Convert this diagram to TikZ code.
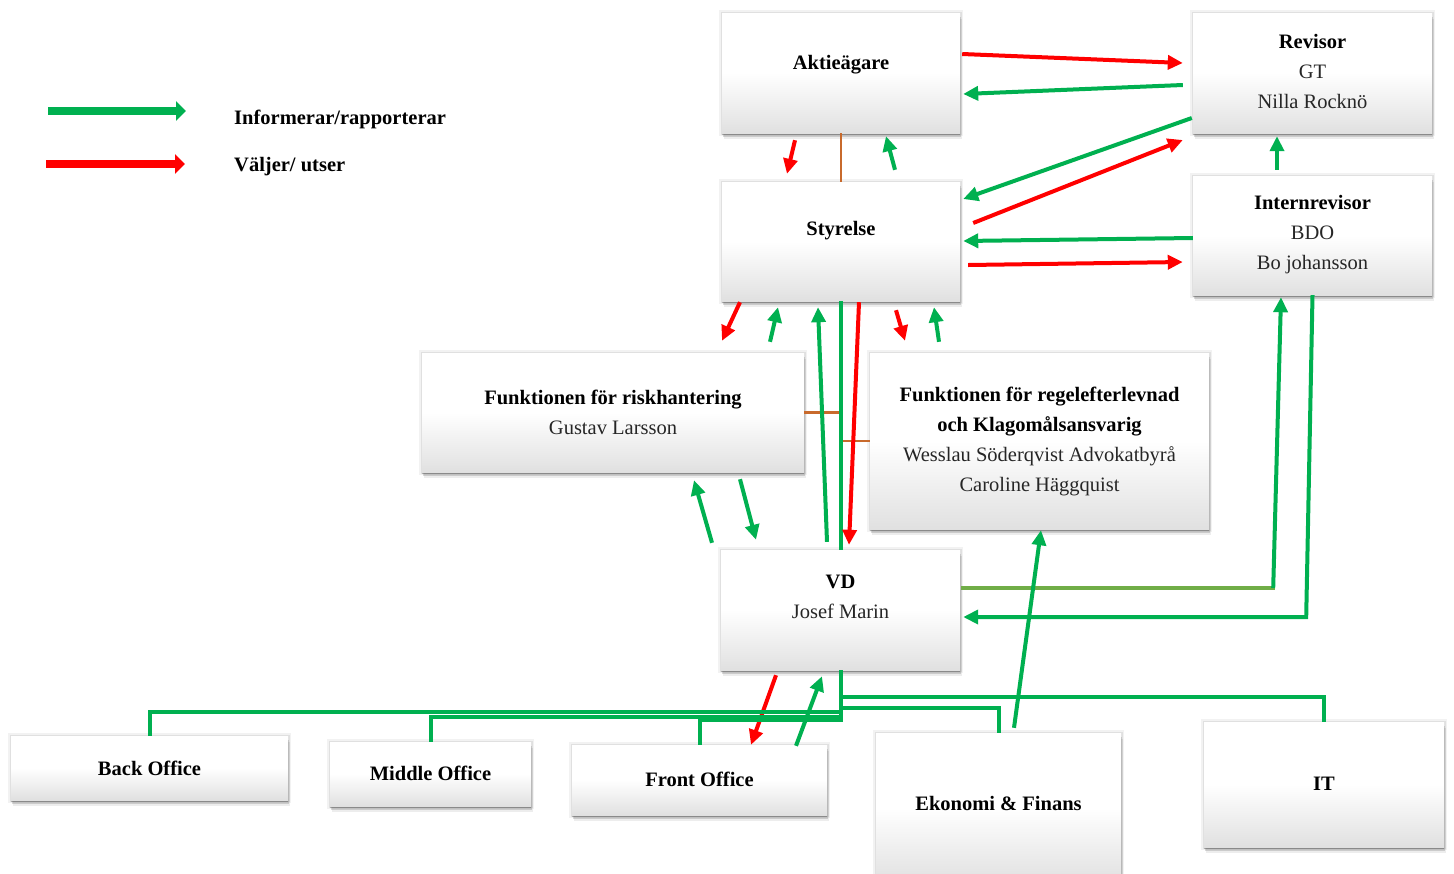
\documentclass[tikz,border=0pt]{standalone}
\usepackage{fontspec}
\setmainfont{Liberation Serif}
\usetikzlibrary{arrows.meta,calc,shadows}
\definecolor{cgreen}{HTML}{00B050}
\definecolor{cred}{HTML}{FF0000}
\definecolor{cbrown}{HTML}{C86A2C}
\definecolor{colive}{HTML}{70AD47}
\begin{document}
\begin{tikzpicture}[x=1pt,y=-1pt,
  box/.style={inner sep=0pt, top color=white, bottom color=black!12, middle color=white,
    drop shadow={shadow xshift=0pt,shadow yshift=-1.5pt,opacity=0.22,fill=black},
    drop shadow={shadow xshift=1pt,shadow yshift=-3.5pt,opacity=0.14,fill=black},
    drop shadow={shadow xshift=2pt,shadow yshift=-5.5pt,opacity=0.07,fill=black},
    preaction={draw=black, draw opacity=0.05, line width=6pt},
    preaction={draw=black, draw opacity=0.07, line width=3pt}},
  txt/.style={font=\fontsize{20.5}{30}\selectfont, align=center, inner sep=0pt, text=black!85},
  hd/.style={txt, text=black, font=\fontsize{20.5}{30}\selectfont\bfseries},
  garr/.style={draw=cgreen, line width=4pt, -{Triangle[length=15pt,width=14pt]}},
  rarr/.style={draw=cred, line width=4pt, -{Triangle[length=15pt,width=14pt]}},
  gline/.style={draw=cgreen, line width=4pt},
  bline/.style={draw=cbrown, line width=2.5pt},
  legg/.style={draw=cgreen, line width=8pt, -{Triangle[length=10pt,width=19pt]}},
  legr/.style={draw=cred, line width=8pt, -{Triangle[length=10pt,width=19pt]}}
]
\useasboundingbox (0,0) rectangle (1454,873);
\clip (0,0) rectangle (1454,873);
\fill[white] (0,0) rectangle (1454,873);

% boxes
\node[box, minimum width=238pt, minimum height=120pt] (akt) at (841,73) {};
\node[box, minimum width=239pt, minimum height=120pt] (rev) at (1312.5,73) {};
\node[box, minimum width=238pt, minimum height=119pt] (sty) at (841,241.5) {};
\node[box, minimum width=239pt, minimum height=119pt] (int) at (1312.5,235.5) {};
\node[box, minimum width=382pt, minimum height=119pt] (risk) at (613,412.5) {};
\node[box, minimum width=339pt, minimum height=176pt] (reg) at (1039.5,441) {};
\node[box, minimum width=239pt, minimum height=120pt] (vd) at (840.5,610) {};
\node[box, minimum width=277pt, minimum height=64pt] (back) at (149.5,768) {};
\node[box, minimum width=201pt, minimum height=64pt] (mid) at (430.5,774) {};
\node[box, minimum width=255pt, minimum height=70pt] (front) at (699.5,780) {};
\node[box, minimum width=245pt, minimum height=150pt] (eko) at (998.5,808) {};
\node[box, minimum width=240pt, minimum height=125pt] (it) at (1324,784.5) {};

% texts
\node[hd] (akt-t) at ($(akt.center)+(0,-8)$) {Aktieägare};
\node[txt] (rev-t) at ($(rev.center)+(0,-1.5)$) {\textbf{\color{black}Revisor}\\GT\\Nilla Rocknö};
\node[hd] (sty-t) at ($(sty.center)+(0,-10.5)$) {Styrelse};
\node[txt] (int-t) at ($(int.center)+(0,-1)$) {\textbf{\color{black}Internrevisor}\\BDO\\Bo johansson};
\node[txt] (risk-t) at (risk.center) {\textbf{\color{black}Funktionen för riskhantering}\\Gustav Larsson};
\node[txt] (reg-t) at (reg.center) {\textbf{\color{black}Funktionen för regelefterlevnad}\\\textbf{\color{black}och Klagomålsansvarig}\\Wesslau Söderqvist Advokatbyrå\\Caroline Häggquist};
\node[txt] (vd-t) at ($(vd.center)+(0,-13)$) {\textbf{\color{black}VD}\\Josef Marin};
\node[hd] (back-t) at (back.center) {Back Office};
\node[hd] (mid-t) at ($(mid.center)+(0,-1)$) {Middle Office};
\node[hd] (front-t) at ($(front.center)+(0,-1)$) {Front Office};
\node[hd] (eko-t) at ($(eko.north)+(0,71)$) {Ekonomi \& Finans};
\node[hd] (it-t) at ($(it.center)+(0,-0.5)$) {IT};

% legend
\coordinate (lgA) at (48,111);
\coordinate (lgB) at (186,111);
\coordinate (lrA) at (46,164);
\coordinate (lrB) at (185,164);
\draw[legg] (lgA) -- (lgB);
\draw[legr] (lrA) -- (lrB);
\node[hd, anchor=west] (lg-t) at (234,119) {Informerar/rapporterar};
\node[hd, anchor=west] (lr-t) at (234,167) {Väljer/ utser};

% brown links
\draw[bline] (akt.south) -- (sty.north);
\draw[bline] (risk.east) -- (risk.east -| sty.south);
\draw[bline] (reg.west) -- (reg.west -| sty.south);

% top connectors
\draw[rarr] ($(akt.east)+(2,-19)$) -- ($(rev.west)+(-10,-10)$);
\draw[garr] ($(rev.west)+(-10,12)$) -- ($(akt.east)+(3,21)$);
\draw[garr] ($(rev.west)+(-1,45)$) -- ($(sty.east)+(3,-42.5)$);
\draw[rarr] ($(sty.east)+(13,-18.5)$) -- ($(rev.west)+(-10,67)$);
\draw[garr] ($(int.west)+(0,2.5)$) -- ($(sty.east)+(3,-0.5)$);
\draw[rarr] ($(sty.east)+(8,23.5)$) -- ($(int.west)+(-10,26.5)$);
\draw[garr] ($(int.north)+(-35.5,-6)$) -- ($(rev.south)+(-35.5,3)$);
\draw[rarr] ($(akt.south)+(-46,7)$) -- ($(sty.north)+(-54,-8)$);
\draw[garr] ($(sty.north)+(54,-12)$) -- ($(akt.south)+(45,3)$);

% Styrelse <-> middle row / VD
\draw[rarr] ($(sty.south)+(-101,1)$) -- ($(risk.north)+(109,-12)$);
\draw[garr] ($(risk.north)+(157,-11)$) -- ($(sty.south)+(-63,6)$);
\draw[garr] ($(vd.north)+(-13.5,-8)$) -- ($(sty.south)+(-23,6)$);
\draw[gline] (sty.south) -- (sty.south |- vd.north);
\draw[rarr] ($(sty.south)+(18,1)$) -- ($(vd.north)+(8.5,-5)$);
\draw[rarr] ($(sty.south)+(55,9)$) -- ($(reg.north)+(-134.5,-12)$);
\draw[garr] ($(reg.north)+(-100.5,-11)$) -- ($(sty.south)+(93,6)$);

% VD <-> riskhantering
\draw[garr] ($(vd.north)+(-128.5,-7)$) -- ($(risk.south)+(81,8)$);
\draw[garr] ($(risk.south)+(127,7)$) -- ($(vd.north)+(-84.5,-10)$);

% VD <-> Internrevisor
\coordinate (j1) at ($(vd.east)+(313,-22)$);
\draw[colive, line width=4pt] ($(vd.east)+(1,-22)$) -- ([xshift=2pt]j1);
\draw[garr] (j1) -- ($(int.south)+(-31.5,2)$);
\draw[garr, line join=miter] (int.south) -- ($(vd.east)+(346,7)$) -- ($(vd.east)+(3,7)$);

% Ekonomi -> regelefterlevnad
\draw[garr] ($(eko.north)+(15.5,-5)$) -- ($(reg.south)+(1.5,1)$);

% VD <-> Front Office
\draw[rarr] ($(vd.south)+(-64.5,5)$) -- ($(front.north)+(51.5,0)$);
\draw[garr] ($(front.north)+(96.5,1)$) -- ($(vd.south)+(-18.5,6)$);

% tree
\draw[gline] (vd.south) -- ($(vd.south)+(0,52)$);
\draw[gline, line join=miter] ($(vd.south)+(0,42)$) -| (back.north);
\draw[gline, line join=miter] ($(vd.south)+(0,47)$) -| (mid.north);
\draw[gline, line join=miter] ($(vd.south)+(0,50)$) -| (front.north);
\draw[gline, line join=miter] ($(vd.south)+(0,27)$) -| (it.north);
\draw[gline, line join=miter] ($(vd.south)+(0,38)$) -| (eko.north);
\end{tikzpicture}
\end{document}
